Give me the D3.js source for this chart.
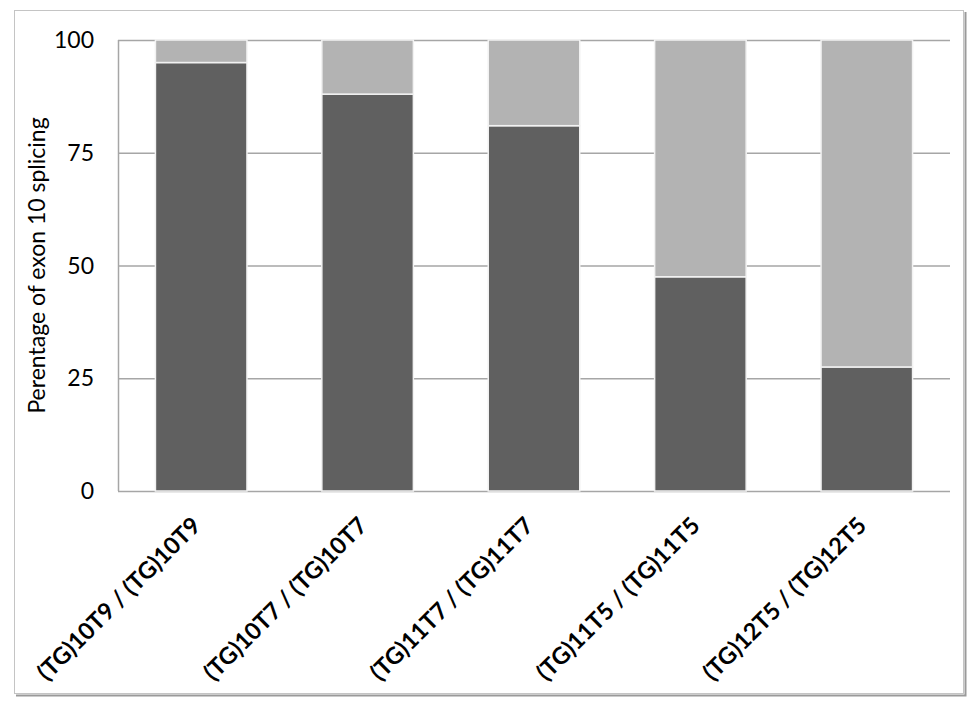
<!DOCTYPE html>
<html>
<head>
<meta charset="utf-8">
<script src="https://cdn.jsdelivr.net/npm/d3@7"></script>
<style>
  body { margin: 0; background: #fff; }
  svg { display: block; }
</style>
</head>
<body>
<div id="chart"></div>
<script>
// genotype categories and % of exon 10 inclusion (dark) vs skipping (light)
const genotypes = ["(TG)10T9 / (TG)10T9", "(TG)10T7 / (TG)10T7", "(TG)11T7 / (TG)11T7", "(TG)11T5 / (TG)11T5", "(TG)12T5 / (TG)12T5"]
const included = [95, 88, 81, 47.5, 27.5]
const skipped = [5, 12, 19, 52.5, 72.5]
const yTicks = [0, 25, 50, 75, 100]
const yTitle = "Perentage of exon 10 splicing"

const width = 976, height = 708
const margin = ({ top: 40, right: 26, bottom: 217, left: 118 })

const data = genotypes.map((g, i) => ({ genotype: g, included: included[i], skipped: skipped[i] }))

const series = d3.stack().keys(["included", "skipped"])(data)

const x = d3.scaleBand()
   .domain(genotypes)
   .range([margin.left, width - margin.right])
   .paddingInner(0.45)
   .paddingOuter(0.225)

const y = d3.scaleLinear()
   .domain([0, 100])
   .range([height - margin.bottom, margin.top])

const color = d3.scaleOrdinal()
   .domain(["included", "skipped"])
   .range(["#606060", "#b3b3b3"])

const svg = d3.create("svg")
   .attr("width", width)
   .attr("height", height)
   .attr("viewBox", [0, 0, width, height])
   .attr("font-family", "Lato, 'Open Sans', sans-serif")

// outer frame with a little shadow on right/bottom
svg.append("path")
   .attr("d", "M16,695.5 H965.5 V12")
   .attr("fill", "none")
   .attr("stroke", "#9a9a9a")
   .attr("stroke-width", 2)
svg.append("rect")
   .attr("x", 14.5).attr("y", 10.5)
   .attr("width", 949).attr("height", 683)
   .attr("fill", "#fff")
   .attr("stroke", "#c4c4c4")

// gridlines
svg.append("g")
   .selectAll("line")
   .data(yTicks)
   .join("line")
   .attr("x1", margin.left)
   .attr("x2", width - margin.right)
   .attr("y1", d => y(d) + 0.5)
   .attr("y2", d => y(d) + 0.5)
   .attr("stroke", "#a6a6a6")
   .attr("stroke-width", 1.5)

// left axis line
svg.append("line")
   .attr("x1", margin.left + 0.5).attr("x2", margin.left + 0.5)
   .attr("y1", y(100)).attr("y2", y(0))
   .attr("stroke", "#a6a6a6")
   .attr("stroke-width", 1.5)

// bars
svg.append("g")
   .selectAll("g")
   .data(series)
   .join("g")
   .attr("fill", d => color(d.key))
   .selectAll("rect")
   .data(d => d)
   .join("rect")
   .attr("x", d => x(d.data.genotype))
   .attr("y", d => y(d[1]))
   .attr("width", x.bandwidth())
   .attr("height", d => y(d[0]) - y(d[1]))
   .attr("stroke", "#f2f2f2")
   .attr("stroke-width", 1.5)

// y tick labels
svg.append("g")
   .attr("font-size", 23)
   .attr("text-anchor", "end")
   .attr("fill", "#000")
   .selectAll("text")
   .data(yTicks)
   .join("text")
   .attr("x", 94)
   .attr("y", d => y(d))
   .attr("dy", "0.35em")
   .text(d => d)

// y title
svg.append("text")
   .attr("transform", `translate(45,${(y(0) + y(100)) / 2}) rotate(-90)`)
   .attr("text-anchor", "middle")
   .attr("font-size", 23)
   .attr("fill", "#000")
   .text(yTitle)

// x labels, rotated
svg.append("g")
   .attr("font-size", 23.5)
   .attr("font-weight", "bold")
   .attr("text-anchor", "end")
   .attr("fill", "#000")
   .selectAll("text")
   .data(genotypes)
   .join("text")
   .attr("transform", d => `translate(${x(d) + x.bandwidth() / 2 + 1},${y(0) + 36}) rotate(-45)`)
   .text(d => d)

d3.select("#chart").node().append(svg.node())
</script>
</body>
</html>
